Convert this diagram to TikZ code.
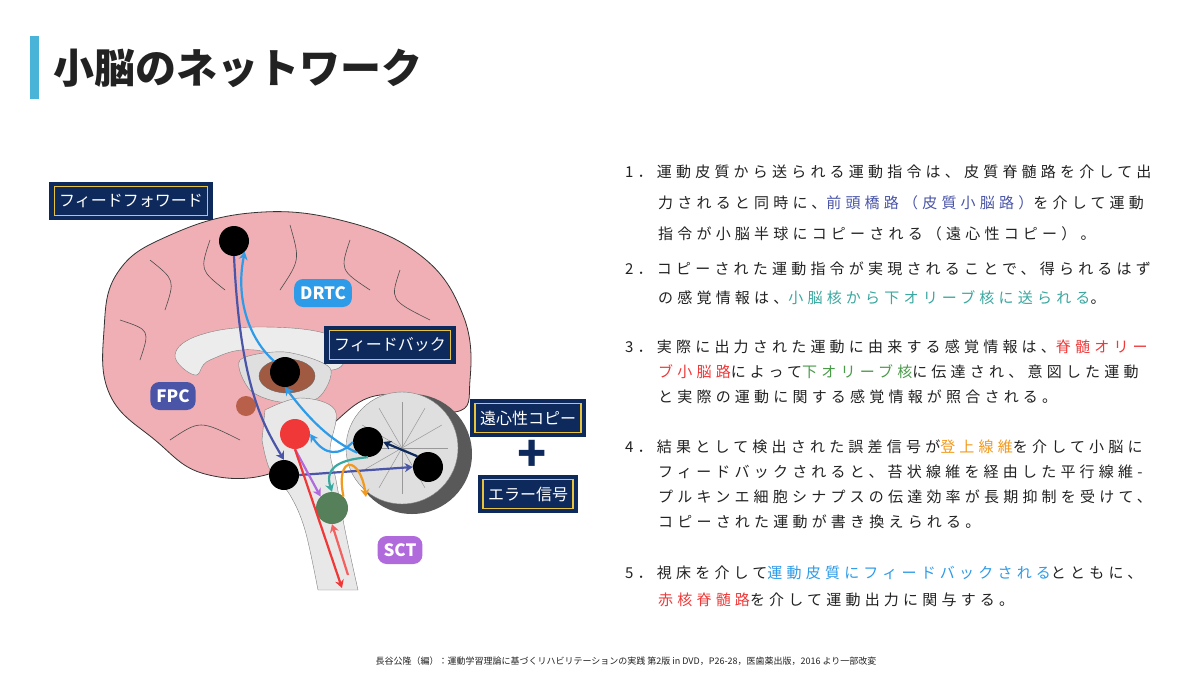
\documentclass[tikz,border=0pt]{standalone}
\usepackage{fontspec}
\setmainfont{Noto Sans CJK JP}
\newfontfamily\jpsp[LetterSpace=28]{Noto Sans CJK JP}
\usetikzlibrary{arrows.meta}
\definecolor{navy}{HTML}{0E2A5C}
\definecolor{gold}{HTML}{E8C23A}
\definecolor{pinkb}{HTML}{EFAFB4}
\definecolor{cbl}{HTML}{2D9BE8}
\definecolor{cvi}{HTML}{4A55A8}
\definecolor{cte}{HTML}{3AA8A0}
\definecolor{cre}{HTML}{F03838}
\definecolor{cgr}{HTML}{4A9A4A}
\definecolor{cor}{HTML}{F29A1E}
\definecolor{cpu}{HTML}{B06ADC}
\definecolor{txt}{HTML}{222222}
\definecolor{bar}{HTML}{4AB4D8}
\definecolor{thal}{HTML}{A05A42}
\definecolor{thal2}{HTML}{B8604A}
\definecolor{oliv}{HTML}{56805A}
\newcommand{\tline}[3]{\node[anchor=west,text=txt,font=\jpsp\fontsize{15}{16}\selectfont,inner sep=0] at (#1,#2) {#3};}
\begin{document}
\begin{tikzpicture}[x=1pt,y=-1pt,
  blk/.style={circle,fill=black,minimum size=30pt,inner sep=0},
  tag/.style={rounded corners=9pt,text=white,font=\bfseries\fontsize{17}{19}\selectfont,inner xsep=6pt,minimum height=28pt},
  ar/.style={line width=2.2pt,-{Stealth[length=8pt,width=9pt]}}]
\useasboundingbox (0,0) rectangle (1200,675);
\fill[white] (0,0) rectangle (1200,675);
% title
\fill[bar] (30,36) rectangle (39,99);
\node[anchor=west,text=txt,font=\bfseries\fontsize{41}{44}\selectfont,inner sep=0] (title) at (53,68) {小脳のネットワーク};
% brain
\fill[pinkb,draw=black!80,line width=0.8pt] plot[smooth cycle,tension=0.7] coordinates{(104,330)(118,272)(168,236)(250,213)(340,220)(420,255)(463,315)(470,380)(455,412)(380,395)(325,430)(275,472)(205,474)(155,440)(110,395)};
\foreach \p in {{(150,260) .. controls (175,280) .. (165,310)},{(210,240) .. controls (200,270) .. (225,290)},{(290,225) .. controls (300,260) .. (280,290)},{(350,240) .. controls (340,270) .. (370,290)},{(400,270) .. controls (390,300) .. (430,320)},{(120,320) .. controls (150,330) .. (140,360)},{(380,330) .. controls (410,340) .. (440,360)},{(170,440) .. controls (200,420) .. (240,440)}}
  \draw[black!70,line width=0.6pt] \p;
% corpus callosum area
\fill[gray!15,draw=black!50] plot[smooth cycle,tension=0.7] coordinates{(175,355)(200,335)(260,327)(330,335)(345,360)(320,370)(255,350)(210,360)(195,375)};
\fill[gray!25,draw=black!50] plot[smooth cycle] coordinates{(240,360)(285,352)(330,368)(318,398)(280,402)(250,390)};
\fill[thal,draw=black!60] (287,376) ellipse (28pt and 17pt);
\fill[thal2] (246,406) circle (10pt);
% brainstem
\fill[gray!18,draw=black!50] plot[smooth,tension=0.6] coordinates{(265,410)(300,398)(335,410)(330,450)(336,480)(345,530)(358,590)} -- (318,590) -- plot[smooth,tension=0.6] coordinates{(318,590)(305,530)(290,495)(270,470)(262,440)} -- cycle;
% cerebellum
\fill[black!65] (412,454) circle (60pt);
\fill[gray!25,draw=black!50] (402,448) circle (56pt);
\foreach \a in {0,30,...,330} \draw[black!40,line width=0.5pt] (402,448) -- ++(\a:46pt);
% dots
\node[blk] (m1) at (234,241) {};
\node[blk] (th) at (285,372) {};
\node[blk] (cn) at (368,442) {};
\node[blk] (cc) at (428,467) {};
\node[blk] (pn) at (284,475) {};
\node[circle,fill=cre,minimum size=30pt,inner sep=0] (rn) at (295,434) {};
\node[circle,fill=oliv,minimum size=32pt,inner sep=0] (io) at (332,508) {};
% arrows
\draw[ar,cvi] (m1.south) .. controls (240,380) and (260,420) .. (pn.north);
\draw[ar,cbl] (th.north west) .. controls (250,340) and (235,300) .. (m1.south east);
\draw[ar,cbl] (cn.south west) .. controls (330,440) and (310,420) .. (th.south);
\draw[ar,cbl] (cn.west) .. controls (340,456) and (325,456) .. (rn.east);
\draw[ar,navy] (cc.north west) -- (cn.east);
\draw[ar,cvi] (pn.east) -- (cc.west);
\draw[ar,cte] (cn.south) .. controls (335,460) and (325,470) .. (io.north);
\draw[ar,cor] (io.north east) .. controls (335,455) and (360,455) .. (366,497);
\draw[ar,cpu] (rn.south) -- (io.north west);
\coordinate (out) at (342,588);
\coordinate (in) at (348,575);
\draw[ar,cre] (rn.south) -- (out);
\draw[ar,cre!80] (in) -- (io.south);
% tags
\node[tag,fill=cbl] (drtc) at (323,293) {DRTC};
\node[tag,fill=cvi] (fpc) at (173,396) {FPC};
\node[tag,fill=cpu] (sct) at (400,550) {SCT};
% label boxes
\foreach \n/\x/\y/\lab in {ff/131/201/フィードフォワード,fb/390/345/フィードバック,ec/528/418/遠心性コピー,er/528/494/エラー信号}{
  \node[fill=navy,minimum height=38pt,inner xsep=10pt] (\n o) at (\x,\y) {\phantom{\fontsize{16}{18}\selectfont \lab}};
  \node[draw=gold,line width=1.3pt,fill=navy,text=white,font=\fontsize{16}{18}\selectfont,minimum height=29pt,inner xsep=5pt] (\n) at (\x,\y) {\lab};}
\node[text=navy,font=\bfseries\fontsize{48}{48}\selectfont,inner sep=0] (plus) at (532,456) {+};
% right text
\tline{625}{172}{1．運動皮質から送られる運動指令は、皮質脊髄路を介して出}
\tline{658}{203}{力されると同時に、\textcolor{cvi}{前頭橋路（皮質小脳路）}を介して運動}
\tline{658}{234}{指令が小脳半球にコピーされる（遠心性コピー）。}
\tline{625}{269}{2．コピーされた運動指令が実現されることで、得られるはず}
\tline{658}{298}{の感覚情報は、\textcolor{cte}{小脳核から下オリーブ核に送られる}。}
\tline{625}{347}{3．実際に出力された運動に由来する感覚情報は、\textcolor{cre}{脊髄オリー}}
\tline{658}{372}{\textcolor{cre}{ブ小脳路}によって\textcolor{cgr}{下オリーブ核}に伝達され、意図した運動}
\tline{658}{397}{と実際の運動に関する感覚情報が照合される。}
\tline{625}{447}{4．結果として検出された誤差信号が\textcolor{cor}{登上線維}を介して小脳に}
\tline{658}{472}{フィードバックされると、苔状線維を経由した平行線維-}
\tline{658}{497}{プルキンエ細胞シナプスの伝達効率が長期抑制を受けて、}
\tline{658}{522}{コピーされた運動が書き換えられる。}
\tline{625}{573}{5．視床を介して\textcolor{cbl}{運動皮質にフィードバックされる}とともに、}
\tline{658}{600}{\textcolor{cre}{赤核脊髄路}を介して運動出力に関与する。}
\node[text=txt,font=\fontsize{9}{10}\selectfont] (foot) at (626,661) {長谷公隆（編）：運動学習理論に基づくリハビリテーションの実践 第2版 in DVD，P26-28，医歯薬出版，2016 より一部改変};
\end{tikzpicture}
\end{document}
